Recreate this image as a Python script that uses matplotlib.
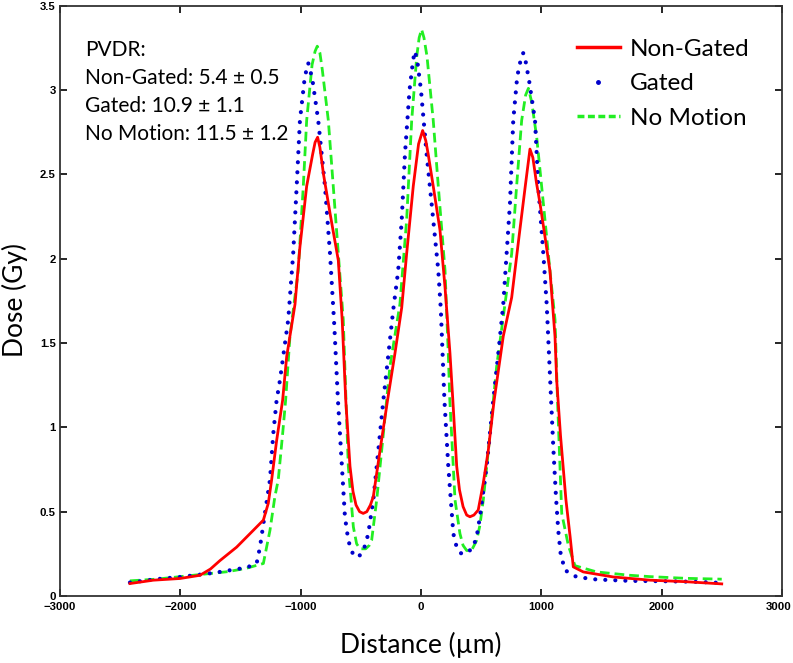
import matplotlib
matplotlib.use("Agg")
import matplotlib.pyplot as plt
import matplotlib.transforms as mtransforms
from matplotlib.lines import Line2D
from matplotlib.font_manager import FontProperties

# ---- data ----
ng_x = [-2419, -2225, -2003, -1837, -1750, -1671, -1532, -1393, -1310, -1269, -1241, -1200, -1150,
        -1116, -1047, -1006, -950, -900, -880, -859, -840, -810, -756, -687, -655, -625,
        -590, -565, -540, -510, -480, -450, -420, -396, -341, -278, -216, -160, -119, -64,
        -20, 14, 40, 60, 102, 158, 200, 241, 265, 297, 320, 350, 380, 407, 440, 476, 518,
        559, 608, 684, 754, 815, 867, 906, 930, 960, 989, 1031, 1072, 1114, 1128, 1160,
        1205, 1240, 1266, 1349, 1599, 1907, 2200, 2500]
ng_y = [0.074, 0.094, 0.104, 0.123, 0.16, 0.21, 0.29, 0.39, 0.45, 0.55, 0.69, 0.92, 1.16,
        1.42, 1.73, 2.07, 2.43, 2.62, 2.69, 2.72, 2.66, 2.50, 2.27, 1.99, 1.64, 1.16,
        0.77, 0.62, 0.54, 0.50, 0.49, 0.50, 0.54, 0.59, 0.86, 1.16, 1.44, 1.71, 2.03, 2.43,
        2.68, 2.76, 2.70, 2.62, 2.43, 2.17, 1.83, 1.44, 1.16, 0.77, 0.63, 0.53, 0.48, 0.47, 0.48, 0.51, 0.67,
        0.86, 1.16, 1.54, 1.77, 2.13, 2.43, 2.65, 2.60, 2.45, 2.33, 2.13, 1.93, 1.54, 1.28, 0.95,
        0.57, 0.35, 0.173, 0.143, 0.113, 0.094, 0.085, 0.072]

g_x = [-2419, -2200, -2003, -1800, -1671, -1449, -1366, -1338, -1297, -1255, -1228, -1200,
       -1172, -1103, -1062, -1033, -1006, -970, -950, -937, -915, -900, -854, -798, -756,
       -720, -690, -673, -632, -610, -590, -565, -540, -510, -480, -460, -438, -396, -341,
       -313, -285, -230, -189, -160, -133, -95, -65, -50, -30, 0, 47, 102, 144, 165, 195,
       227, 269, 300, 338, 390, 435, 465, 490, 546, 601, 643, 684, 712, 740, 767, 800, 835,
       851, 870, 900, 948, 975, 1017, 1045, 1078, 1100, 1122, 1141, 1161, 1197, 1294, 1460,
       1737, 2000, 2250, 2500]
g_y = [0.08, 0.10, 0.113, 0.13, 0.143, 0.169, 0.193, 0.29, 0.49, 0.69, 0.96, 1.16,
       1.28, 1.64, 2.03, 2.43, 2.82, 3.05, 3.13, 3.16, 3.10, 3.05, 2.82, 2.43, 2.03,
       1.60, 1.16, 0.96, 0.47, 0.36, 0.29, 0.25, 0.23, 0.24, 0.27, 0.31, 0.37, 0.57, 0.96,
       1.16, 1.34, 1.70, 1.93, 2.23, 2.62, 3.0, 3.18, 3.23, 3.17, 3.0, 2.62, 2.23, 1.93, 1.70, 1.16,
       0.77, 0.37, 0.28, 0.25, 0.26, 0.29, 0.36, 0.47, 0.77, 1.16, 1.44, 1.73, 2.03, 2.33, 2.82, 3.08, 3.20,
       3.22, 3.17, 3.05, 2.82, 2.43, 2.03, 1.73, 1.22, 0.88, 0.59, 0.39, 0.25, 0.153, 0.113, 0.098,
       0.09, 0.088, 0.085, 0.078]

nm_x = [-2419, -2200, -2000, -1800, -1600, -1450, -1310, -1255, -1214, -1186, -1150, -1125,
        -1089, -1020, -978, -950, -905, -880, -862, -840, -820, -770, -729, -687, -646,
        -625, -604, -562, -535, -507, -460, -430, -410, -368, -313, -258, -175, -119, -77,
        -35, -15, 5, 25, 50, 102, 144, 200, 227, 240, 283, 324, 350, 380, 420, 463, 490,
        518, 574, 629, 698, 754, 795, 837, 870, 893, 920, 962, 1017, 1072, 1114, 1135, 1170,
        1225, 1280, 1460, 1737, 1907, 2200, 2500]
nm_y = [0.09, 0.10, 0.115, 0.13, 0.145, 0.165, 0.193, 0.39, 0.59, 0.69, 0.96, 1.16,
        1.54, 1.93, 2.43, 2.82, 3.15, 3.23, 3.26, 3.22, 3.12, 2.82, 2.43, 2.03, 1.64,
        1.20, 0.77, 0.41, 0.31, 0.28, 0.28, 0.30, 0.33, 0.57, 0.96, 1.36, 1.73, 2.23, 2.82,
        3.20, 3.31, 3.36, 3.31, 3.20, 2.82, 2.43, 1.93, 1.44, 1.16, 0.57, 0.37, 0.30, 0.27, 0.27, 0.33, 0.42,
        0.57, 0.96, 1.36, 1.73, 2.03, 2.43, 2.82, 2.97, 3.01, 2.93, 2.72, 2.33, 1.93, 1.64, 1.16, 0.49,
        0.30, 0.18, 0.143, 0.123, 0.115, 0.105, 0.10]

series_labels = ["Non-Gated", "Gated", "No Motion"]
pvdr_lines = ["PVDR:", "Non-Gated: 5.4 \u00b1 0.5", "Gated: 10.9 \u00b1 1.1", "No Motion: 11.5 \u00b1 1.2"]
x_ticks = [-3000, -2000, -1000, 0, 1000, 2000, 3000]
y_ticks = [0, 0.5, 1, 1.5, 2, 2.5, 3, 3.5]
y_tick_labels = ["0", "0.5", "1", "1.5", "2", "2.5", "3", "3.5"]

# ---- figure ----
fig = plt.figure(figsize=(7.93, 6.63), dpi=100)
ax = fig.add_axes([0.0757, 0.101, 0.9103, 0.8904])

ax.plot(ng_x, ng_y, color="#ff0000", lw=2.0, solid_joinstyle="round", zorder=3)
ax.plot(g_x, g_y, color="#0000cc", lw=3.0, linestyle=(0, (0.01, 2.4)),
        dash_capstyle="round", zorder=2)
ax.plot(nm_x, nm_y, color="#22ee22", lw=2.0, linestyle=(0, (3.5, 1.8)), zorder=1)

ax.set_xlim(-3000, 3000)
ax.set_ylim(0, 3.5)
ax.set_xticks(x_ticks)
ax.set_yticks(y_ticks)
ax.set_yticklabels(y_tick_labels)
ax.tick_params(direction="in", length=5, width=1.2, top=True, right=True, pad=3)
ax.tick_params(axis="x", pad=4.5)
tick_fp = FontProperties(family=["Liberation Sans Narrow", "Liberation Sans", "DejaVu Sans"],
                         weight="bold", size=8.2)
for lab in ax.get_xticklabels() + ax.get_yticklabels():
    lab.set_fontproperties(tick_fp)
# keep the last x tick label inside the canvas
last_tick = ax.xaxis.get_major_ticks()[-1]
last_tick.label1.set_transform(last_tick.label1.get_transform()
                               + mtransforms.ScaledTranslation(-3 / 100, 0, fig.dpi_scale_trans))
for sp in ax.spines.values():
    sp.set_linewidth(1.3)
    sp.set_color("#333333")

label_family = ["Lato", "DejaVu Sans"]
ax.set_xlabel("Distance (\u00b5m)", family=label_family, fontsize=19, labelpad=14)
fig.text(15 / 793, 1 - 300 / 663, "Dose (Gy)", family=label_family, fontsize=19,
         rotation=90, ha="center", va="center")

for i, t in enumerate(pvdr_lines):
    ax.text(0.035, 0.925 - i * 0.0474, t, transform=ax.transAxes, family=label_family,
            fontsize=15, va="center", ha="left")

handles = [Line2D([], [], color="#ff0000", lw=2.5),
           Line2D([], [], color="#0000cc", lw=0, marker=".", markersize=5),
           Line2D([], [], color="#22ee22", lw=2.5, linestyle=(0, (2.0, 1.0)))]
leg = ax.legend(handles, series_labels, loc="upper left", bbox_to_anchor=(0.716, 0.944),
                frameon=False, prop=dict(family=label_family, size=17.5),
                handlelength=1.77, handletextpad=0.42, labelspacing=0.55,
                borderpad=0, borderaxespad=0)

fig.savefig("out.png", dpi=100)
